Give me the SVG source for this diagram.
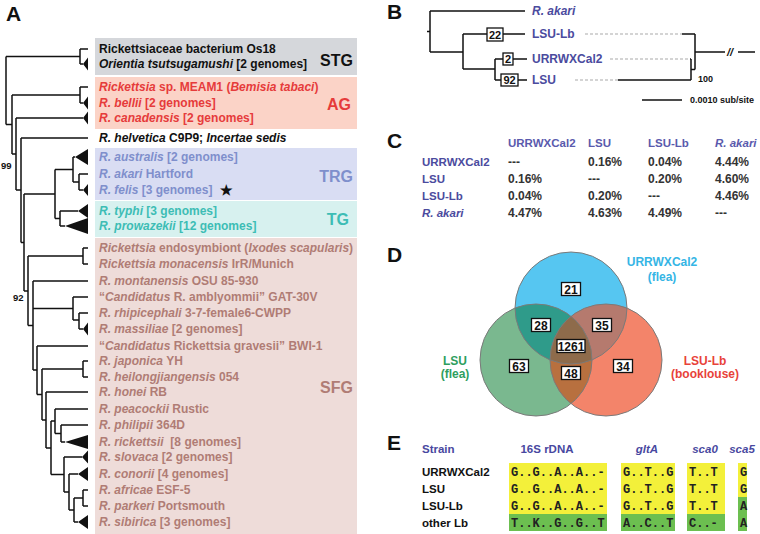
<svg xmlns="http://www.w3.org/2000/svg" width="760" height="534" viewBox="0 0 760 534">
<style>
text{font-family:"Liberation Sans",Arial,sans-serif;font-weight:bold}
.pl{font-size:21px;fill:#111}
.a{font-size:12px}
.i{font-style:italic}
.br{fill:none;stroke:#111;stroke-width:1.5}
.tri{fill:#111}
.k{fill:#111}
.ag{fill:#e63b3b}
.trg{fill:#7f8fcc}
.tg{fill:#3dbdb5}
.sfg{fill:#b07c75}
.gl{font-size:16px;text-anchor:end}
.bl{fill:#4b4b9e;font-size:12px}
.c{font-size:11.5px}
.cv{fill:#333;font-size:12px}
.ch{fill:#5a5aad}
.box{fill:#fff;stroke:#111;stroke-width:1.3}
.bn{font-size:11px;text-anchor:middle;fill:#111}
.vn{font-size:12px;text-anchor:middle;fill:#111}
.mono text{font-family:"Liberation Mono","Courier New",monospace;font-weight:bold;font-size:12px;fill:#222}
.dash{fill:none;stroke:#aaa;stroke-width:1.2;stroke-dasharray:3 2}
</style>
<defs>
<clipPath id="cT"><circle cx="571" cy="308" r="56"/></clipPath>
<clipPath id="cL"><circle cx="536" cy="360" r="56"/></clipPath>
</defs>

<!-- Panel labels -->
<text class="pl" x="6" y="21">A</text>
<text class="pl" x="387" y="19">B</text>
<text class="pl" x="387" y="148">C</text>
<text class="pl" x="387" y="262">D</text>
<text class="pl" x="387" y="450">E</text>

<!-- Panel A group boxes -->
<g id="groupboxes">
<rect x="95" y="38" width="262" height="37" fill="#d5d7db"/>
<rect x="95" y="77" width="262" height="52" fill="#fbd3c7"/>
<rect x="95" y="148" width="262" height="52" fill="#d9ddf3"/>
<rect x="95" y="201" width="262" height="36" fill="#d7f1ef"/>
<rect x="95" y="238" width="262" height="296" fill="#eedcd9"/>
</g>
<g id="grouplabels">
<text class="gl k" x="353" y="66">STG</text>
<text class="gl ag" x="351" y="110">AG</text>
<text class="gl trg" x="353" y="182">TRG</text>
<text class="gl tg" x="349" y="225">TG</text>
<text class="gl sfg" x="353" y="393">SFG</text>
</g>

<!-- Panel A tree -->
<g id="tree-connectors">
<path class="br" d="M6,56.5V124.5M6,56.5H80M6,124.5H12
M80,49V64M80,49H88M80,64H83
M12,95V154M12,95H80M12,154H16
M80,87V103M80,87H88M80,103H83
M16,118V190M16,118H83M16,190H21
M21,138V242.5M21,138H88M21,242.5H24
M24,194V291M24,194H55M24,291H28
M55,169.5V218.5M55,169.5H73M55,218.5H60
M73,157V182M73,157H75M73,182H79
M79,174V190M79,174H88M79,190H83
M60,211V226M60,211H78M60,226H65
M28,256V325.5M28,256H83M28,325.5H33
M83,248V264M83,248H88M83,264H88
M33,281V370M33,281H88M33,308.5H73M33,370H37
M73,297V320M73,297H88M73,320H79
M79,313V329M79,313H88M79,329H83
M37,346V394.5M37,346H88M37,394.5H42
M42,369V420M42,369H83M42,420H46
M83,361V377M83,361H88M83,377H88
M46,392V448M46,392H88M46,448H51
M51,421V474.5M51,421H55M51,474.5H64
M55,409V433.5M55,409H88M55,433.5H61
M61,425V442M61,425H88M61,442H65
M64,457V492M64,457H82M64,492H69
M69,474V510M69,474H78M69,510H74
M74,498V522M74,498H83M74,522H78
M83,490V506M83,490H88M83,506H88"/>
<path class="tri" d="M83,64L88,57.5V70.5Z M83,103L88,96.5V109.5Z M83,118L88,111.5V124.5Z
M75,157L88,149V165Z M83,190L88,184V196Z M78,211L88,204V218Z M65,226L88,218V234Z
M83,329L88,322.5V335.5Z M65,442L88,435V449Z M82,457L88,450.5V463.5Z M78,474L88,467V481Z M78,522L88,515V529Z"/>
<text x="1" y="169" style="font-size:9.5px" class="k">99</text>
<text x="13" y="301" style="font-size:9.5px" class="k">92</text>
</g>

<g id="taxa" class="a">
<text x="99" y="53" class="k">Rickettsiaceae bacterium Os18</text>
<text x="99" y="68" class="k"><tspan class="i">Orientia tsutsugamushi</tspan> [2 genomes]</text>
<text x="99" y="91" class="ag"><tspan class="i">Rickettsia</tspan> sp. MEAM1 (<tspan class="i">Bemisia tabaci</tspan>)</text>
<text x="99" y="107" class="ag"><tspan class="i">R. bellii</tspan> [2 genomes]</text>
<text x="99" y="122" class="ag"><tspan class="i">R. canadensis</tspan> [2 genomes]</text>
<text x="99" y="142" class="k"><tspan class="i">R. helvetica</tspan> C9P9; <tspan class="i">Incertae sedis</tspan></text>
<text x="99" y="161" class="trg"><tspan class="i">R. australis</tspan> [2 genomes]</text>
<text x="99" y="178" class="trg"><tspan class="i">R. akari</tspan> Hartford</text>
<text x="99" y="194" class="trg"><tspan class="i">R. felis</tspan> [3 genomes]</text>
<text x="220" y="195" class="k" style="font-size:14px">★</text>
<text x="99" y="215" class="tg"><tspan class="i">R. typhi</tspan> [3 genomes]</text>
<text x="99" y="230" class="tg"><tspan class="i">R. prowazekii</tspan> [12 genomes]</text>
<text x="99" y="252" class="sfg"><tspan class="i">Rickettsia</tspan> endosymbiont (<tspan class="i">Ixodes scapularis</tspan>)</text>
<text x="99" y="268" class="sfg"><tspan class="i">Rickettsia monacensis</tspan> IrR/Munich</text>
<text x="99" y="285" class="sfg"><tspan class="i">R. montanensis</tspan> OSU 85-930</text>
<text x="99" y="301" class="sfg">“<tspan class="i">Candidatus</tspan> R. amblyommii” GAT-30V</text>
<text x="99" y="317" class="sfg"><tspan class="i">R. rhipicephali</tspan> 3-7-female6-CWPP</text>
<text x="99" y="333" class="sfg"><tspan class="i">R. massiliae</tspan> [2 genomes]</text>
<text x="99" y="350" class="sfg">“<tspan class="i">Candidatus</tspan> Rickettsia gravesii” BWI-1</text>
<text x="99" y="365" class="sfg"><tspan class="i">R. japonica</tspan> YH</text>
<text x="99" y="381" class="sfg"><tspan class="i">R. heilongjiangensis</tspan> 054</text>
<text x="99" y="396" class="sfg"><tspan class="i">R. honei</tspan> RB</text>
<text x="99" y="413" class="sfg"><tspan class="i">R. peacockii</tspan> Rustic</text>
<text x="99" y="429" class="sfg"><tspan class="i">R. philipii</tspan> 364D</text>
<text x="99" y="446" class="sfg" xml:space="preserve"><tspan class="i">R. rickettsii</tspan>  [8 genomes]</text>
<text x="99" y="461" class="sfg"><tspan class="i">R. slovaca</tspan> [2 genomes]</text>
<text x="99" y="478" class="sfg"><tspan class="i">R. conorii</tspan> [4 genomes]</text>
<text x="99" y="494" class="sfg"><tspan class="i">R. africae</tspan> ESF-5</text>
<text x="99" y="510" class="sfg"><tspan class="i">R. parkeri</tspan> Portsmouth</text>
<text x="99" y="526" class="sfg"><tspan class="i">R. sibirica</tspan> [3 genomes]</text>
</g>

<!-- Panel B -->
<g id="treeB-connectors">
<path class="br" d="M427,31.5H430M430,11H525M430,11V52M430,52H463
M463,34V69M463,34H487M503,34H525
M463,69H495M495,59V80M495,59H503M513,59H527
M495,80H501M518,80H527
M682,34H695M695,34V69.5M618,80H691M691,59V80M690,59H691M691,69.5H695M695,52H725M738,52H755
M642,100H682"/>
<path class="dash" d="M585,34H682M610,59H690M575,80H618"/>
</g>
<g id="treeB-nodes">
<rect class="box" x="487" y="28" width="16" height="13"/>
<text class="bn" x="495" y="38.5">22</text>
<rect class="box" x="503" y="53" width="10" height="12"/>
<text class="bn" x="508" y="63">2</text>
<rect class="box" x="501" y="74" width="17" height="12"/>
<text class="bn" x="509.5" y="84">92</text>
<text class="bl i" x="532" y="15">R. akari</text>
<text class="bl" x="532" y="38">LSU-Lb</text>
<text class="bl" x="532" y="63">URRWXCal2</text>
<text class="bl" x="532" y="84">LSU</text>
<text x="727" y="56" class="i k" style="font-size:11px">//</text>
<text x="698" y="82" class="k" style="font-size:9px">100</text>
<text x="690" y="103" class="k" style="font-size:9px">0.0010 sub/site</text>
</g>

<!-- Panel C -->
<g id="tableC" class="c">
<text class="ch" x="508" y="147">URRWXCal2</text>
<text class="ch" x="588" y="147">LSU</text>
<text class="ch" x="648" y="147">LSU-Lb</text>
<text class="ch i" x="715" y="147">R. akari</text>
<text class="bl c" x="422" y="166">URRWXCal2</text>
<text class="bl c" x="422" y="183">LSU</text>
<text class="bl c" x="422" y="200">LSU-Lb</text>
<text class="bl c i" x="422" y="217">R. akari</text>
<text class="cv" x="508" y="166">---</text><text class="cv" x="588" y="166">0.16%</text><text class="cv" x="648" y="166">0.04%</text><text class="cv" x="715" y="166">4.44%</text>
<text class="cv" x="508" y="183">0.16%</text><text class="cv" x="588" y="183">---</text><text class="cv" x="648" y="183">0.20%</text><text class="cv" x="715" y="183">4.60%</text>
<text class="cv" x="508" y="200">0.04%</text><text class="cv" x="588" y="200">0.20%</text><text class="cv" x="648" y="200">---</text><text class="cv" x="715" y="200">4.46%</text>
<text class="cv" x="508" y="217">4.47%</text><text class="cv" x="588" y="217">4.63%</text><text class="cv" x="648" y="217">4.49%</text><text class="cv" x="715" y="217">---</text>
</g>

<!-- Panel D -->
<g id="venn">
<circle cx="571" cy="308" r="56" fill="#56c6f1"/>
<circle cx="536" cy="360" r="56" fill="#7ab88f"/>
<circle cx="606" cy="360" r="56" fill="#f3846a"/>
<g clip-path="url(#cT)">
<circle cx="536" cy="360" r="56" fill="#2f9b8a"/>
<circle cx="606" cy="360" r="56" fill="#b57a6e"/>
</g>
<g clip-path="url(#cL)">
<circle cx="606" cy="360" r="56" fill="#b8703f"/>
<g clip-path="url(#cT)"><circle cx="606" cy="360" r="56" fill="#8e6b4b"/></g>
</g>
<g fill="none" stroke="#7a7a7a" stroke-width="1">
<circle cx="571" cy="308" r="56"/>
<circle cx="536" cy="360" r="56"/>
<circle cx="606" cy="360" r="56"/>
</g>
</g>
<g id="venn-counts">
<rect class="box" x="561.5" y="282.5" width="19" height="13"/><text class="vn" x="571" y="293.5">21</text>
<rect class="box" x="531.5" y="318.5" width="19" height="13"/><text class="vn" x="541" y="329.5">28</text>
<rect class="box" x="592.5" y="318.5" width="19" height="13"/><text class="vn" x="602" y="329.5">35</text>
<rect class="box" x="557" y="339.5" width="28" height="13"/><text class="vn" x="571" y="350.5">1261</text>
<rect class="box" x="509.5" y="359.5" width="19" height="13"/><text class="vn" x="519" y="370.5">63</text>
<rect class="box" x="561.5" y="366.5" width="19" height="13"/><text class="vn" x="571" y="377.5">48</text>
<rect class="box" x="613.5" y="359.5" width="19" height="13"/><text class="vn" x="623" y="370.5">34</text>
</g>
<g id="venn-labels" style="font-size:12px;text-anchor:middle">
<text x="662" y="266" fill="#35b5e5">URRWXCal2</text>
<text x="662" y="281" fill="#35b5e5">(flea)</text>
<text x="455" y="365" fill="#2e9e5e">LSU</text>
<text x="455" y="378" fill="#2e9e5e">(flea)</text>
<text x="705" y="365" fill="#e8423a">LSU-Lb</text>
<text x="705" y="378" fill="#e8423a">(booklouse)</text>
</g>

<!-- Panel E -->
<g id="alignment">
<rect x="509" y="463" width="98" height="51" fill="#f3f03a"/>
<rect x="509" y="514" width="98" height="17" fill="#6cbf50"/>
<rect x="621" y="463" width="54" height="51" fill="#f3f03a"/>
<rect x="621" y="514" width="54" height="17" fill="#6cbf50"/>
<rect x="687" y="463" width="38" height="51" fill="#f3f03a"/>
<rect x="687" y="514" width="38" height="17" fill="#6cbf50"/>
<rect x="738" y="463" width="9" height="34" fill="#f3f03a"/>
<rect x="738" y="497" width="9" height="34" fill="#6cbf50"/>
<g class="c" fill="#4848a0">
<text x="422" y="453">Strain</text>
<text x="547" y="453" text-anchor="middle">16S rDNA</text>
<text x="647" y="453" text-anchor="middle" class="i">gltA</text>
<text x="705" y="453" text-anchor="middle" class="i">sca0</text>
<text x="742" y="453" text-anchor="middle" class="i">sca5</text>
</g>
<g class="c k">
<text x="422" y="476">URRWXCal2</text>
<text x="422" y="493">LSU</text>
<text x="422" y="510">LSU-Lb</text>
<text x="422" y="527">other Lb</text>
</g>
<g class="mono">
<text x="511" y="476">G..G..A..A..-</text><text x="623" y="476">G..T..G</text><text x="689" y="476">T..T</text><text x="740" y="476">G</text>
<text x="511" y="493">G..G..A..A..-</text><text x="623" y="493">G..T..G</text><text x="689" y="493">T..T</text><text x="740" y="493">G</text>
<text x="511" y="510">G..G..A..A..-</text><text x="623" y="510">G..T..G</text><text x="689" y="510">T..T</text><text x="740" y="510">A</text>
<text x="511" y="527">T..K..G..G..T</text><text x="623" y="527">A..C..T</text><text x="689" y="527">C..-</text><text x="740" y="527">A</text>
</g>
</g>
</svg>
